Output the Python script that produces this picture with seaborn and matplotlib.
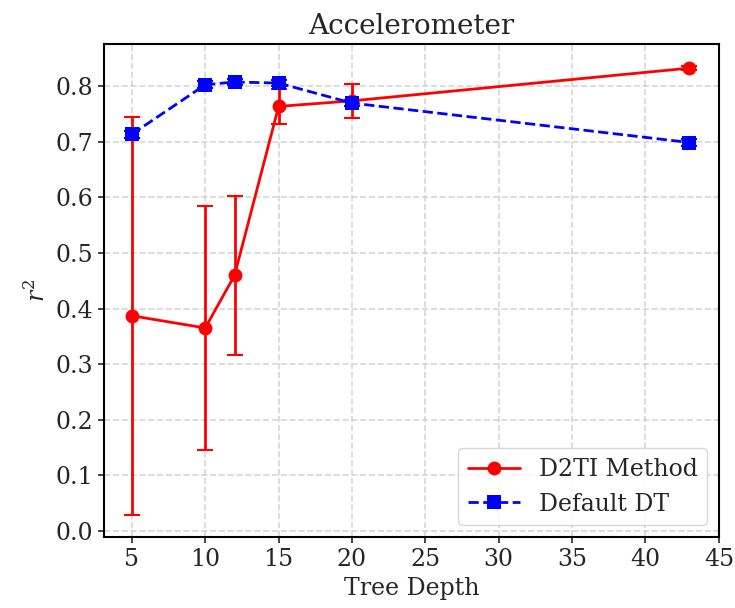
import numpy as np
import pandas as pd
import matplotlib
matplotlib.use("Agg")
import matplotlib.pyplot as plt
import seaborn as sns

depths = [5, 10, 12, 15, 20, 43]
d2ti_mean = [0.387, 0.365, 0.460, 0.764, 0.774, 0.833]
d2ti_err = [0.358, 0.220, 0.143, 0.031, 0.031, 0.003]
dt_mean = [0.714, 0.803, 0.808, 0.806, 0.770, 0.699]
dt_err = [0.006, 0.006, 0.006, 0.006, 0.006, 0.006]
series_names = ["D2TI Method", "Default DT"]

sns.set_style("ticks")
plt.rcParams["font.family"] = ["DejaVu Serif"]
plt.rcParams["mathtext.fontset"] = "dejavuserif"

fig, ax = plt.subplots(figsize=(7.35, 6.08), dpi=100)

df = pd.DataFrame({
    "depth": depths * 2,
    "r2": d2ti_mean + dt_mean,
    "method": [series_names[0]] * len(depths) + [series_names[1]] * len(depths),
})

# error bars first, then the lines with markers on top
ax.errorbar(depths, d2ti_mean, yerr=d2ti_err, fmt="none", ecolor="red",
            elinewidth=2, capsize=6, capthick=1.5, zorder=2)
ax.errorbar(depths, dt_mean, yerr=dt_err, fmt="none", ecolor="blue",
            elinewidth=2, capsize=6, capthick=1.5, zorder=3)

sns.lineplot(data=df, x="depth", y="r2", hue="method", style="method",
             palette={series_names[0]: "red", series_names[1]: "blue"},
             markers={series_names[0]: "o", series_names[1]: "s"},
             dashes={series_names[0]: "", series_names[1]: (3.7, 1.6)},
             markersize=10, markeredgewidth=0, linewidth=2,
             ax=ax, legend=True, zorder=4)

ax.set_title("Accelerometer", fontsize=20, pad=7)
ax.set_xlabel("Tree Depth", fontsize=17)
ax.set_ylabel(r"$r^2$", fontsize=17)
ax.set_xticks(np.arange(5, 46, 5))
ax.set_yticks(np.arange(0, 0.81, 0.1))
ax.tick_params(labelsize=17, direction="out", length=4.5, width=1.2)
ax.grid(True, linestyle="--", color="#cccccc", linewidth=1.2, alpha=0.8)
ax.set_axisbelow(True)
for s in ax.spines.values():
    s.set_linewidth(1.5)
    s.set_color("black")

leg = ax.legend(loc="lower right", fontsize=17, frameon=True,
                handlelength=2.2)

fig.subplots_adjust(left=0.1415, right=0.978, top=0.9276, bottom=0.1168)
fig.savefig("out.png", dpi=100)
